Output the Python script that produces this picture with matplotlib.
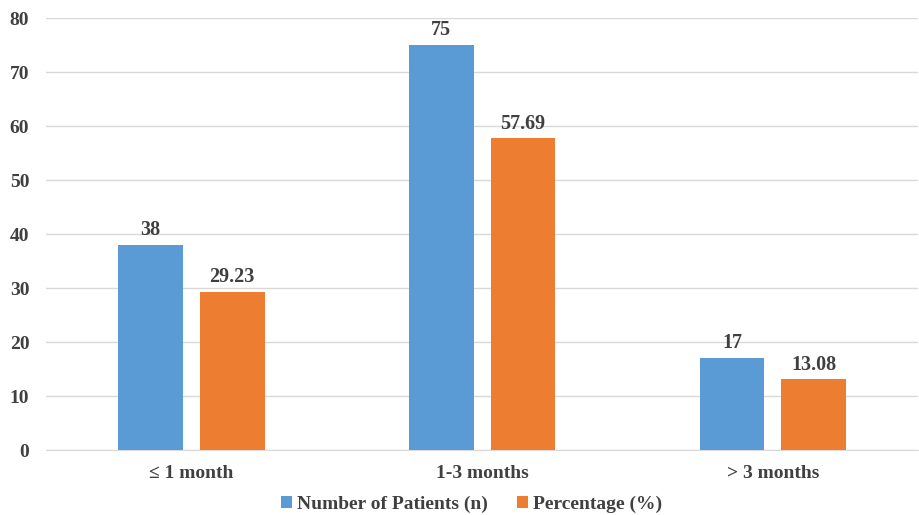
import numpy as np
import matplotlib.pyplot as plt

# duration groups and the two series
categories = ['\u2264 1 month', '1-3 months', '> 3 months']
patients = [38, 75, 17]
percentage = [29.23, 57.69, 13.08]
patient_labels = ['38', '75', '17']
percent_labels = ['29.23', '57.69', '13.08']

blue = '#5B9BD5'
orange = '#ED7D31'
txt = '#404040'

plt.rcParams['font.family'] = ['Liberation Serif', 'DejaVu Serif']
plt.rcParams['font.weight'] = 'bold'

fig = plt.figure(figsize=(9.2, 5.15), dpi=100)
ax = fig.add_axes([0.05, 0.1262, 0.948, 0.8388])

x = np.arange(len(categories))
w = 0.223
off = 0.1405
b1 = ax.bar(x - off, patients, w, color=blue, label='Number of Patients (n)', zorder=3)
b2 = ax.bar(x + off, percentage, w, color=orange, label='Percentage (%)', zorder=3)

for bars, labs in ((b1, patient_labels), (b2, percent_labels)):
    for b, t in zip(bars, labs):
        ax.text(b.get_x() + b.get_width() / 2, b.get_height() + 0.9, t,
                ha='center', va='bottom', fontsize=14.5, fontweight='bold', color=txt)

ax.set_ylim(0, 80)
ax.set_xlim(-0.5, 2.5)
ax.set_yticks(range(0, 81, 10))
ax.set_xticks(x)
ax.set_xticklabels(categories)
ax.tick_params(axis='both', length=0, labelsize=14, colors=txt)
ax.tick_params(axis='y', pad=12)
ax.tick_params(axis='x', pad=11)
for lab in ax.get_xticklabels() + ax.get_yticklabels():
    lab.set_fontweight('bold')

ax.grid(axis='y', color='#D9D9D9', linewidth=1, zorder=0)
for s in ('top', 'right', 'left'):
    ax.spines[s].set_visible(False)
ax.spines['bottom'].set_color('#D9D9D9')

ax.legend(loc='center', bbox_to_anchor=(0.488, -0.125), ncol=2, frameon=False,
          fontsize=14, handlelength=0.55, handleheight=0.55, handletextpad=0.25,
          columnspacing=1.5, labelcolor=txt, borderpad=0)

fig.savefig('out.png', dpi=100)
